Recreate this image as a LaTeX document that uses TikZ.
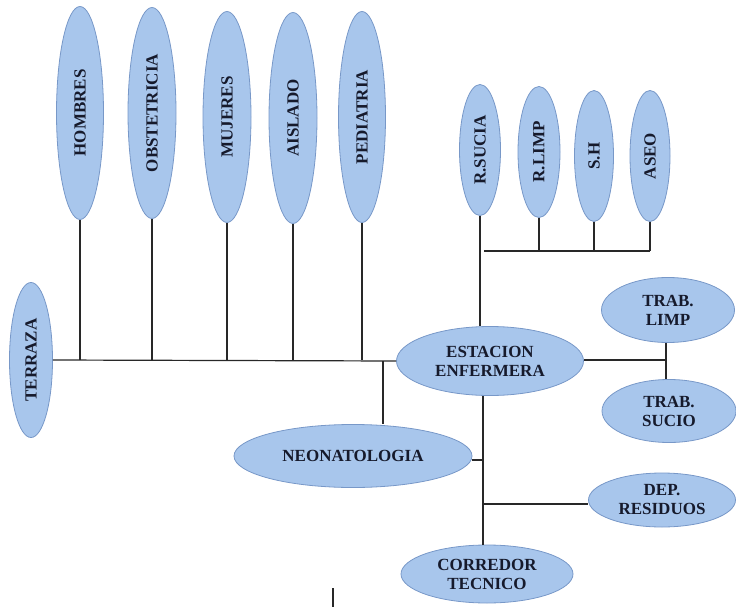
\documentclass[tikz,border=0pt]{standalone}
\usepackage{fontspec}
\setmainfont{Liberation Serif}
\usetikzlibrary{shapes.geometric}
\definecolor{ellfill}{RGB}{168,198,236}
\definecolor{elledge}{RGB}{120,152,200}
\definecolor{txt}{RGB}{22,26,44}
\definecolor{lin}{RGB}{40,40,40}
\tikzset{
  ell/.style={ellipse, draw=elledge, line width=0.8pt, fill=ellfill, inner sep=0pt,
    text=txt, font=\fontsize{17}{19}\selectfont\bfseries, align=center},
  conn/.style={draw=lin, line width=1.2pt}
}
\newcommand{\vtext}[1]{\rotatebox{90}{#1}}
\begin{document}
\begin{tikzpicture}[x=1pt,y=-1pt]
\useasboundingbox (0,0) rectangle (736,607);
% vertical ellipses top row
\node[ell, minimum width=47, minimum height=213] (hom) at (80,113) {\vtext{HOMBRES}};
\node[ell, minimum width=48, minimum height=211] (obs) at (152,113) {\vtext{OBSTETRICIA}};
\node[ell, minimum width=48, minimum height=211] (muj) at (227,117) {\vtext{MUJERES}};
\node[ell, minimum width=48, minimum height=211] (ais) at (293,118) {\vtext{AISLADO}};
\node[ell, minimum width=47, minimum height=211] (ped) at (362,117) {\vtext{PEDIATRIA}};
\node[ell, minimum width=43, minimum height=155] (ter) at (31,360) {\vtext{TERRAZA}};
% right group
\node[ell, minimum width=41, minimum height=131] (rsu) at (480,150) {\vtext{R.SUCIA}};
\node[ell, minimum width=42, minimum height=131] (rli) at (539,152) {\vtext{R.LIMP}};
\node[ell, minimum width=39, minimum height=131] (sh) at (594,156) {\vtext{S.H}};
\node[ell, minimum width=40, minimum height=131] (ase) at (650,156) {\vtext{ASEO}};
% horizontal ellipses
\node[ell, minimum width=187, minimum height=69] (est) at (490,361) {ESTACION\\ENFERMERA};
\node[ell, minimum width=238, minimum height=63] (neo) at (353,456) {NEONATOLOGIA};
\node[ell, minimum width=133, minimum height=65] (tl) at (668,310) {TRAB.\\LIMP};
\node[ell, minimum width=134, minimum height=63] (ts) at (669,411) {TRAB.\\SUCIO};
\node[ell, minimum width=147, minimum height=54] (dep) at (662,500) {DEP.\\RESIDUOS};
\node[ell, minimum width=172, minimum height=58] (cor) at (487,574) {CORREDOR\\TECNICO};
% junction coordinates
\coordinate (nj) at (383,361);
\coordinate (rb) at (484,251);
\coordinate (tj) at (666,360);
\coordinate (vx) at (483,0);
\coordinate (nr) at (483,460);
\coordinate (dr) at (483,504);
\coordinate (tk1) at (333,588);
\coordinate (tk2) at (333,607);
% main horizontal line
\draw[conn] (ter.east) -- (est.west);
\foreach \n in {hom,obs,muj,ais,ped} {
  \draw[conn] (\n.south) -- (\n.south |- ter.east);
}
\draw[conn] (nj) -- (nj |- neo.north);
% R group
\draw[conn] (rsu.south) -- (rsu.south |- est.north);
\draw[conn] (rb) -- (rb -| ase.south);
\foreach \n in {rli,sh,ase} {
  \draw[conn] (\n.south) -- (\n.south |- rb);
}
% trab
\draw[conn] (est.east |- tj) -- (tj);
\draw[conn] (tj |- tl.south) -- (tj |- ts.north);
% lower spine
\draw[conn] (vx |- est.south) -- (vx |- cor.north);
\draw[conn] (neo.east |- nr) -- (nr);
\draw[conn] (dr) -- (dr -| dep.west);
% stray tick
\draw[conn] (tk1) -- (tk2);
\end{tikzpicture}
\end{document}
